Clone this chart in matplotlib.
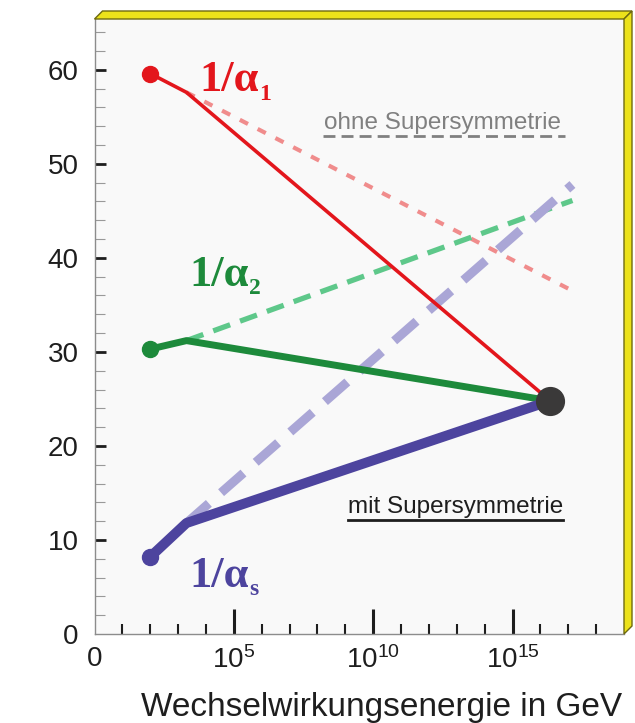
import matplotlib
matplotlib.use("Agg")
import matplotlib.pyplot as plt
from matplotlib.patches import Polygon

# log10(E / GeV) at which the couplings are plotted
log_e_start = 2.0
log_e_susy = 3.3
log_e_gut = 16.35
log_e_end = 17.15

# inverse couplings: with supersymmetry (solid) and without (dashed)
inv_a1 = [59.6, 57.6, 24.8]
inv_a2 = [30.3, 31.2, 24.8]
inv_as = [8.2, 11.8, 24.8]
inv_a1_nosusy = [57.6, 36.5]
inv_a2_nosusy = [31.2, 46.1]
inv_as_nosusy = [11.8, 47.8]

x_ticks = [0, 5, 10, 15]
x_ticklabels = ["0", "$10^{5}$", "$10^{10}$", "$10^{15}$"]
y_ticks = [0, 10, 20, 30, 40, 50, 60]

plt.rcParams["font.family"] = ["Liberation Sans", "DejaVu Sans"]
plt.rcParams["mathtext.fontset"] = "custom"
plt.rcParams["mathtext.rm"] = "Liberation Sans"
plt.rcParams["mathtext.it"] = "Liberation Sans"

W, H = 635, 723
fig = plt.figure(figsize=(W / 100, H / 100), dpi=100)
fig.patch.set_facecolor("white")


def px(x, y):
    return (x / W, 1 - y / H)


L, R, T, B = 94.5, 624, 19, 634
ax = fig.add_axes([L / W, 1 - B / H, (R - L) / W, (B - T) / H])
ax.set_facecolor("#f9f9f9")

xs = [log_e_start, log_e_susy, log_e_gut]
xs_nosusy = [log_e_susy, log_e_end]

red, green, purple = "#e3161c", "#1d8a3b", "#4d449e"

# running without supersymmetry
ax.plot(xs_nosusy, inv_a1_nosusy, color="#f08c8c", lw=3, dashes=(2.2, 2.6), zorder=2)
ax.plot(xs_nosusy, inv_a2_nosusy, color="#5ec88a", lw=3.8, dashes=(3.4, 2.0), zorder=2)
ax.plot(xs_nosusy, inv_as_nosusy, color="#aaa6d6", lw=6.5, dashes=(3.3, 1.8), zorder=2)

# running with supersymmetry
ax.plot(xs, inv_a1, color=red, lw=2.6, zorder=3, solid_joinstyle="round")
ax.plot(xs, inv_a2, color=green, lw=5, zorder=3, solid_joinstyle="round")
ax.plot(xs, inv_as, color=purple, lw=7.2, zorder=3, solid_joinstyle="round")

for vals, c in [(inv_a1, red), (inv_a2, green), (inv_as, purple)]:
    ax.plot(log_e_start, vals[0], "o", color=c, ms=11.5, zorder=4)
ax.plot(log_e_gut, inv_a1[-1], "o", color="#3a3939", ms=20, zorder=5)

# coupling labels
serif = dict(family="Liberation Serif", weight="bold", fontsize=32)
for x, y, sub, c in [(3.75, 57.7, "1", red), (3.4, 37.0, "2", green),
                     (3.4, 5.0, "s", purple)]:
    t = ax.text(x, y, "1/\u03b1", color=c, ha="left", va="baseline", **serif)
    ax.annotate(sub, xy=(1, 0), xycoords=t, xytext=(0.5, -3), textcoords="offset points",
                color=c, ha="left", va="bottom", family="Liberation Serif",
                weight="bold", fontsize=17)

# key texts
ax.text(12.5, 53.7, "ohne Supersymmetrie", color="#808080", fontsize=17.5,
        ha="center", va="baseline")
ax.plot([8.2, 16.9], [53.0, 53.0], color="#808080", lw=2, dashes=(4.3, 2.2))
ax.text(12.95, 12.9, "mit Supersymmetrie", color="#1e1e1e", fontsize=17.5,
        ha="center", va="baseline")
ax.plot([9.1, 16.8], [12.1, 12.1], color="#1e1e1e", lw=2)

ax.set_xlim(0, 19)
ax.set_ylim(0, 65.4)

ax.set_xticks(x_ticks)
ax.set_xticklabels(x_ticklabels)
ax.set_xticks([v for v in range(1, 19) if v % 5], minor=True)
ax.set_yticks(y_ticks)
ax.set_yticks([v for v in range(2, 66, 2) if v % 10], minor=True)

ax.tick_params(axis="both", which="major", direction="in", colors="#1e1e1e",
               labelsize=20)
ax.tick_params(axis="x", which="major", length=18, width=2.2, pad=9)
ax.tick_params(axis="x", which="minor", direction="in", length=7, width=1.5,
               color="#1e1e1e")
ax.tick_params(axis="y", which="major", length=8, width=2, pad=11.5)
ax.tick_params(axis="y", which="minor", direction="in", length=7, width=0.8,
               color="#999999")
# no tick marks at the origin, only the labels
ax.xaxis.get_major_ticks()[0].tick1line.set_visible(False)
ax.yaxis.get_major_ticks()[0].tick1line.set_visible(False)

for s in ["top", "right"]:
    ax.spines[s].set_visible(False)
for s in ["left", "bottom"]:
    ax.spines[s].set_color("#8c8c8c")
    ax.spines[s].set_linewidth(1)

ax.set_xlabel("Wechselwirkungsenergie in GeV", fontsize=24, color="#1e1e1e")
ax.xaxis.set_label_coords(0.543, -0.12)
ax.xaxis.label.set_va("center")

# yellow frame along top and right edge
d = 8
top = Polygon([px(L, T), px(R, T), px(R + d, T - d), px(L + d, T - d)], closed=True,
              transform=fig.transFigure, facecolor="#ece21a", edgecolor="#6e6a10", lw=1)
side = Polygon([px(R, T), px(R + d, T - d), px(R + d, B - d), px(R, B)], closed=True,
               transform=fig.transFigure, facecolor="#ece21a", edgecolor="#6e6a10", lw=1)
fig.patches.extend([top, side])

fig.savefig("out.png", dpi=100)
